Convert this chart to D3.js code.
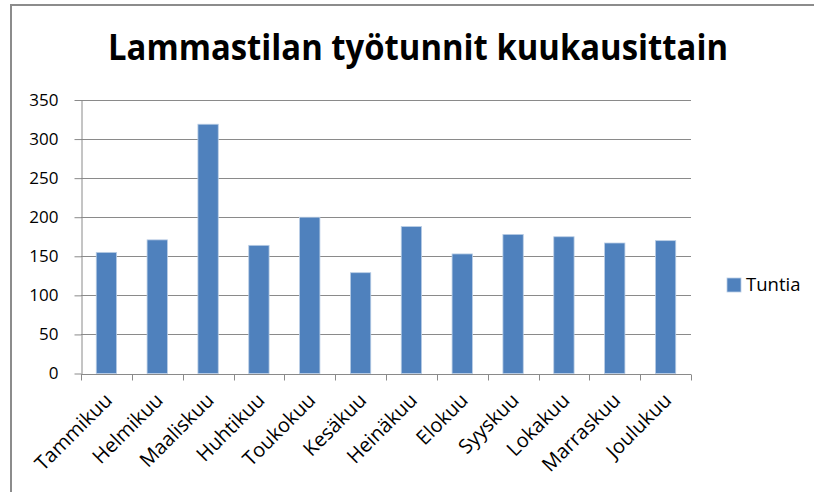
<!DOCTYPE html>
<html>
<head>
<meta charset="utf-8">
<script src="https://cdn.jsdelivr.net/npm/d3@7"></script>
<style>
  body { margin: 0; background: #fff; }
  text { font-family: "Open Sans", "Noto Sans", sans-serif; fill: #000; }
</style>
</head>
<body>
<div id="chart"></div>
<script>
// Kuukaudet ja tunnit
const months = ["Tammikuu", "Helmikuu", "Maaliskuu", "Huhtikuu", "Toukokuu", "Kesäkuu",
  "Heinäkuu", "Elokuu", "Syyskuu", "Lokakuu", "Marraskuu", "Joulukuu"];
const hours = [155, 171, 319, 164, 200, 129, 188, 153, 178, 175, 167, 170];
const yTicks = [0, 50, 100, 150, 200, 250, 300, 350];
const seriesName = "Tuntia";
const chartTitle = "Lammastilan työtunnit kuukausittain";

const W = 814, H = 492;
const MARGIN = {LEFT: 81, RIGHT: 123, TOP: 100, BOTTOM: 118.5};
const BAR_COLOR = "#4f81bd";

const svg = d3.select("#chart").append("svg")
  .attr("width", W)
  .attr("height", H);

// outer frame
svg.append("rect")
  .attr("x", 11).attr("y", 5)
  .attr("width", W + 20).attr("height", H + 20)
  .attr("fill", "none")
  .attr("stroke", "#8c8c8c")
  .attr("stroke-width", 2);

// title
svg.append("text")
  .attr("x", 418).attr("y", 60)
  .attr("text-anchor", "middle")
  .attr("font-weight", "bold")
  .attr("font-size", 36)
  .attr("textLength", 620)
  .attr("lengthAdjust", "spacingAndGlyphs")
  .text(chartTitle);

const x = d3.scaleBand()
  .domain(months)
  .range([MARGIN.LEFT, W - MARGIN.RIGHT])
  .paddingInner(0.6)
  .paddingOuter(0.3);

const y = d3.scaleLinear()
  .domain([0, 350])
  .range([H - MARGIN.BOTTOM, MARGIN.TOP]);

// gridlines
svg.append("g")
  .selectAll("line")
  .data(yTicks.slice(1))
  .enter().append("line")
  .attr("x1", MARGIN.LEFT)
  .attr("x2", W - MARGIN.RIGHT)
  .attr("y1", d => Math.round(y(d)) + 0.5)
  .attr("y2", d => Math.round(y(d)) + 0.5)
  .attr("stroke", "#8a8a8a");

// y axis
const yAxis = svg.append("g")
  .attr("transform", "translate(" + (MARGIN.LEFT + 0.5) + ",0)")
  .call(d3.axisLeft(y).tickValues(yTicks).tickSize(7).tickPadding(16).tickSizeOuter(0));
yAxis.select(".domain").attr("stroke", "#8a8a8a");
yAxis.selectAll(".tick line").attr("stroke", "#8a8a8a");
yAxis.selectAll("text")
  .attr("font-size", 17)
  .attr("font-family", "Open Sans, sans-serif")
  .attr("fill", "#000");

// bars
svg.append("g")
  .selectAll("rect")
  .data(hours)
  .enter().append("rect")
  .attr("x", (d, i) => x(months[i]))
  .attr("y", d => y(d))
  .attr("width", x.bandwidth())
  .attr("height", d => y(0) - y(d))
  .attr("fill", BAR_COLOR)
  .attr("stroke", "#b9cde5")
  .attr("stroke-width", 0.8);

// x axis
const step = (W - MARGIN.RIGHT - MARGIN.LEFT) / months.length;
const xAxisG = svg.append("g")
  .attr("transform", "translate(0," + (Math.round(y(0)) + 0.5) + ")");
xAxisG.append("line")
  .attr("x1", MARGIN.LEFT).attr("x2", W - MARGIN.RIGHT)
  .attr("stroke", "#8a8a8a");
xAxisG.selectAll(".tk")
  .data(d3.range(months.length + 1))
  .enter().append("line")
  .attr("class", "tk")
  .attr("x1", i => Math.round(MARGIN.LEFT + i * step) + 0.5)
  .attr("x2", i => Math.round(MARGIN.LEFT + i * step) + 0.5)
  .attr("y1", 0).attr("y2", 6)
  .attr("stroke", "#8a8a8a");
xAxisG.selectAll(".lbl")
  .data(months)
  .enter().append("text")
  .attr("class", "lbl")
  .attr("text-anchor", "end")
  .attr("font-size", 20)
  .attr("transform", d => "translate(" + (x(d) + x.bandwidth() / 2 + 7) + ",27)rotate(-45)")
  .text(d => d);

// legend
const legend = svg.append("g").attr("transform", "translate(727,278)");
legend.append("rect")
  .attr("width", 14).attr("height", 14)
  .attr("fill", BAR_COLOR)
  .attr("stroke", "#b9cde5")
  .attr("stroke-width", 0.8);
legend.append("text")
  .attr("x", 19).attr("y", 13)
  .attr("font-size", 18.5)
  .attr("fill", "#222")
  .text(seriesName);
</script>
</body>
</html>
